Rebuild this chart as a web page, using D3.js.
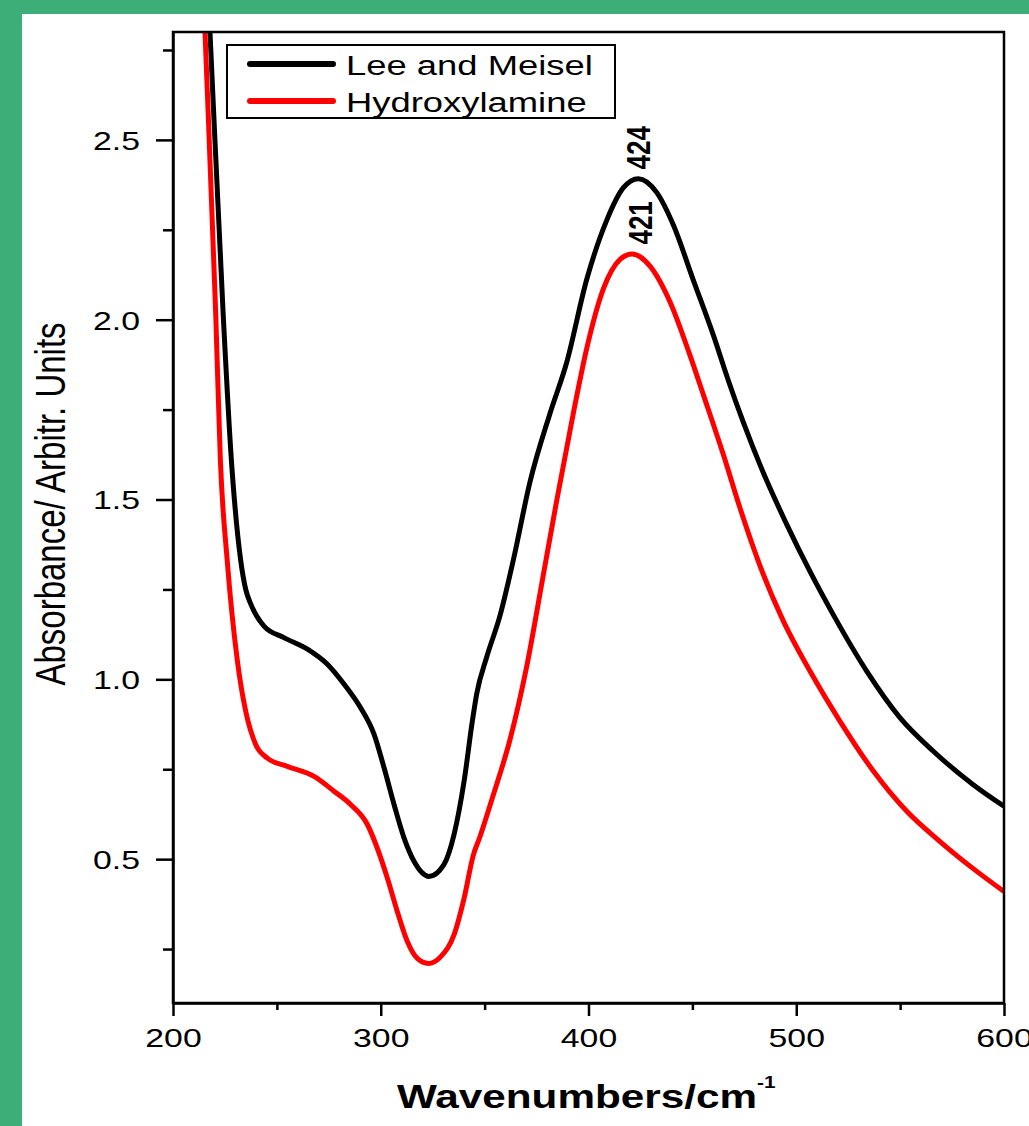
<!DOCTYPE html>
<html>
<head>
<meta charset="utf-8">
<script src="https://cdn.jsdelivr.net/npm/d3@7"></script>
<style>
  body { margin: 0; background: #3dae78; }
  svg { display: block; font-family: Arial, "Liberation Sans", sans-serif; }
</style>
</head>
<body>
<div id="chart"></div>
<script>
// series (wavenumber, absorbance)
const leeWave = [214, 217.8, 224.2, 228.1, 232.6, 235, 237.4, 243.8, 253.4, 264.7, 274.3, 282.3, 290.3, 296.8,
  301.6, 306.4, 311.2, 316, 323.2, 330.4, 335.3, 340.1, 344, 346.2, 351, 357.4, 363.8, 371.8, 381.5, 389.5,
  399.1, 408.8, 416.8, 424, 432.8, 440.8, 450.4, 460.1, 467.3, 474.5, 484.1, 495.4, 506.6, 517.8, 533.9,
  550, 566, 585.2, 600];
const leeAbs = [3.27, 2.8, 2.01, 1.61, 1.33, 1.25, 1.21, 1.148, 1.116, 1.084, 1.042, 0.987, 0.921, 0.847,
  0.754, 0.652, 0.559, 0.494, 0.452, 0.485, 0.569, 0.716, 0.88, 0.96, 1.062, 1.177, 1.331, 1.548, 1.74, 1.881,
  2.111, 2.277, 2.367, 2.392, 2.354, 2.264, 2.111, 1.957, 1.831, 1.715, 1.575, 1.431, 1.3, 1.18, 1.023,
  0.893, 0.8, 0.707, 0.647];

const hydWave = [213, 215.4, 220.6, 222.8, 226.1, 231, 235, 239.8, 245.4, 255, 267.9, 277.5, 285.5,
  293.5, 298.3, 303.2, 308, 312.8, 317.6, 322.9, 328.9, 335.3, 340.1, 344.5, 347.8, 354.2, 362.2, 370.3,
  378.3, 384.7, 392.7, 399.1, 407.1, 415.2, 421, 429.6, 439.2, 448.9, 455.3, 464.9, 473, 482.6, 493.8,
  506.6, 521, 537.1, 553.2, 569.2, 586.9, 600];
const hydAbs = [3.16, 2.8, 2.01, 1.61, 1.33, 1.051, 0.911, 0.819, 0.781, 0.758, 0.73, 0.689, 0.652,
  0.597, 0.531, 0.447, 0.354, 0.271, 0.224, 0.21, 0.229, 0.29, 0.391, 0.51, 0.563, 0.679, 0.832, 1.037,
  1.292, 1.497, 1.74, 1.919, 2.085, 2.168, 2.183, 2.149, 2.05, 1.9, 1.791, 1.625, 1.475, 1.315, 1.162,
  1.023, 0.884, 0.745, 0.633, 0.549, 0.466, 0.41];

const seriesNames = ["Lee and Meisel", "Hydroxylamine"];
const seriesColors = ["#000000", "#ff0000"];

const xTicks = [200, 300, 400, 500, 600];
const xMinor = [250, 350, 450, 550];
const yTicks = [0.5, 1.0, 1.5, 2.0, 2.5];
const yMinor = [0.25, 0.75, 1.25, 1.75, 2.25, 2.75];

const peakLabels = ["424", "421"];
const peakValues = [2.392, 2.183];

// text in the original is stretched sideways
const stretch = 1.3;

var W = 1029, H = 1126;
var margin = {top: 32, right: 25, bottom: 123, left: 173},
    width = W - margin.left - margin.right,
    height = H - margin.top - margin.bottom;

var svg = d3.select("#chart").append("svg")
    .attr("width", W)
    .attr("height", H);

svg.append("rect").attr("width", W).attr("height", H).attr("fill", "#3dae78");
svg.append("rect").attr("x", 22).attr("y", 14).attr("width", W - 22).attr("height", H - 14).attr("fill", "#ffffff");

var g = svg.append("g").attr("transform", "translate(" + margin.left + "," + margin.top + ")");

var x = d3.scaleLinear().domain([200, 600]).range([0, width]);
var y = d3.scaleLinear().domain([0.1, 2.8]).range([height, 0]);

g.append("defs").append("clipPath").attr("id", "clip")
    .append("rect").attr("width", width).attr("height", height);

// curves
var series = [
    leeWave.map((w, i) => ({w: w, a: leeAbs[i]})),
    hydWave.map((w, i) => ({w: w, a: hydAbs[i]}))
];
var line = d3.line().x(d => x(d.w)).y(d => y(d.a)).curve(d3.curveMonotoneX);

g.append("g").attr("clip-path", "url(#clip)")
    .selectAll("path")
    .data(series)
    .enter().append("path")
    .attr("d", line)
    .attr("fill", "none")
    .attr("stroke", (d, i) => seriesColors[i])
    .attr("stroke-width", 5)
    .attr("stroke-linejoin", "round");

// frame
g.append("rect")
    .attr("width", width).attr("height", height)
    .attr("fill", "none").attr("stroke", "#000").attr("stroke-width", 2.5);

// bottom axis
var xAxis = g.append("g").attr("transform", "translate(0," + height + ")")
    .call(d3.axisBottom(x).tickValues(xTicks).tickSize(13).tickSizeOuter(0).tickFormat(d3.format("d")));
g.append("g").attr("transform", "translate(0," + height + ")")
    .call(d3.axisBottom(x).tickValues(xMinor).tickSize(7).tickFormat(""))
    .select(".domain").remove();

// left axis
var yAxis = g.append("g")
    .call(d3.axisLeft(y).tickValues(yTicks).tickSize(17).tickSizeOuter(0).tickFormat(d3.format(".1f")));
g.append("g")
    .call(d3.axisLeft(y).tickValues(yMinor).tickSize(10).tickFormat(""))
    .select(".domain").remove();

g.selectAll(".tick line, .domain").attr("stroke", "#000").attr("stroke-width", 2.5);

xAxis.selectAll("text")
    .attr("y", 44).attr("dy", 0)
    .attr("transform", "scale(" + stretch + ",1)")
    .style("font-size", "26px").attr("fill", "#000");

yAxis.selectAll("text")
    .attr("x", -33 / stretch).attr("dy", "0.36em")
    .attr("transform", "scale(" + stretch + ",1)")
    .style("font-size", "26px").attr("fill", "#000");

// axis titles
svg.append("text")
    .attr("transform", "translate(65,504) scale(" + stretch + ",1) rotate(-90)")
    .attr("text-anchor", "middle")
    .style("font-size", "33px")
    .text("Absorbance/ Arbitr. Units");

var xt = svg.append("text")
    .attr("transform", "translate(397,1108) scale(" + stretch + ",1)")
    .style("font-size", "32.5px")
    .style("font-weight", "bold");
xt.append("tspan").text("Wavenumbers/cm");
xt.append("tspan").attr("dy", -20).style("font-size", "16px").text("-1");

// peak labels
peakLabels.forEach(function(lab, i) {
    var px = margin.left + x(424) + (i === 1 ? 1 : -1);
    var py = margin.top + y(peakValues[i]) - 31;
    svg.append("text")
        .attr("transform", "translate(" + px + "," + py + ") scale(" + stretch + ",1) rotate(-90)")
        .attr("text-anchor", "middle")
        .attr("dy", "0.36em")
        .style("font-size", "26px")
        .style("font-weight", "bold")
        .text(lab);
});

// legend
var legend = svg.append("g");
legend.append("rect")
    .attr("x", 227).attr("y", 45).attr("width", 388).attr("height", 73)
    .attr("fill", "#fff").attr("stroke", "#000").attr("stroke-width", 2);
seriesNames.forEach(function(name, i) {
    var ly = 64 + i * 37;
    legend.append("line")
        .attr("x1", 250).attr("x2", 333).attr("y1", ly).attr("y2", ly)
        .attr("stroke", seriesColors[i]).attr("stroke-width", 6).attr("stroke-linecap", "round");
    legend.append("text")
        .attr("transform", "translate(346," + (ly + 11) + ") scale(" + stretch + ",1)")
        .style("font-size", "28px")
        .text(name);
});
</script>
</body>
</html>
